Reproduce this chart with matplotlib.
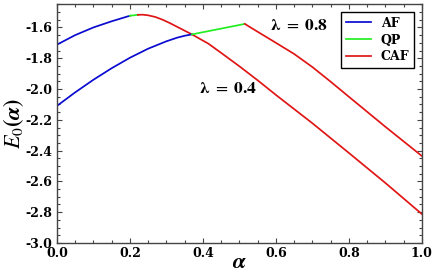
import numpy as np
import matplotlib
matplotlib.use('Agg')
import matplotlib.pyplot as plt
from matplotlib.ticker import MultipleLocator

# lambda = 0.4
af_a_04 = [0.0, 0.05, 0.10, 0.15, 0.20]
af_e_04 = [-1.712, -1.650, -1.600, -1.560, -1.524]
qp_a_04 = [0.20, 0.222]
qp_e_04 = [-1.524, -1.518]
caf_a_04 = [0.222, 0.235, 0.25, 0.27, 0.29, 0.31, 0.337, 0.37, 0.415, 0.45,
            0.50, 0.55, 0.60, 0.70, 0.80, 0.90, 1.0]
caf_e_04 = [-1.518, -1.517, -1.521, -1.532, -1.550, -1.572, -1.605, -1.645,
            -1.705, -1.765, -1.852, -1.943, -2.038, -2.222, -2.415, -2.610, -2.812]

# lambda = 0.8
af_a_08 = [0.0, 0.05, 0.10, 0.15, 0.20, 0.25, 0.30, 0.33, 0.35, 0.37]
af_e_08 = [-2.110, -2.022, -1.940, -1.865, -1.797, -1.738, -1.690, -1.666,
           -1.654, -1.645]
qp_a_08 = [0.37, 0.515]
qp_e_08 = [-1.645, -1.577]
caf_a_08 = [0.515, 0.555, 0.59, 0.65, 0.70, 0.75, 0.80, 0.90, 1.0]
caf_e_08 = [-1.577, -1.635, -1.685, -1.772, -1.857, -1.952, -2.050, -2.245, -2.435]

c_af, c_qp, c_caf = '#0a0ad0', '#22ee22', '#e01515'
serif = 'DejaVu Serif'
plt.rcParams['mathtext.fontset'] = 'stix'

fig = plt.figure(figsize=(4.34, 2.73), dpi=100)
ax = fig.add_axes([0.131, 0.110, 0.841, 0.874])

lw = 1.25
ax.plot(af_a_04, af_e_04, color=c_af, lw=lw, label='AF')
ax.plot(qp_a_04, qp_e_04, color=c_qp, lw=lw, label='QP')
ax.plot(caf_a_04, caf_e_04, color=c_caf, lw=lw, label='CAF')
ax.plot(af_a_08, af_e_08, color=c_af, lw=lw)
ax.plot(qp_a_08, qp_e_08, color=c_qp, lw=lw)
ax.plot(caf_a_08, caf_e_08, color=c_caf, lw=lw)

ax.set_xlim(0, 1.0)
ax.set_ylim(-3.0, -1.45)
ax.xaxis.set_minor_locator(MultipleLocator(0.05))
ax.yaxis.set_minor_locator(MultipleLocator(0.05))
ax.tick_params(which='both', direction='in', top=True, right=True, width=0.8,
               color='#444444')
ax.tick_params(which='major', length=3.5)
ax.tick_params(which='minor', length=2)
ax.tick_params(axis='x', pad=3)
ax.tick_params(axis='y', pad=3)
for s in ax.spines.values():
    s.set_color('#444444')
    s.set_linewidth(1.0)

xt = np.arange(0, 1.01, 0.2)
ax.set_xticks(xt)
ax.set_xticklabels(['%.1f' % v for v in xt], fontfamily=serif,
                   fontweight='bold', fontsize=9)
yt = np.arange(-3.0, -1.55, 0.2)
ax.set_yticks(yt)
ax.set_yticklabels(['%.1f' % v for v in yt], fontfamily=serif,
                   fontweight='bold', fontsize=9)

ax.set_xlabel(r'$\boldsymbol{\alpha}$', fontsize=16, labelpad=-6)
ax.set_ylabel(r'$\boldsymbol{E_0(\alpha)}$', fontsize=16, labelpad=0)

ax.text(0.39, -1.994, r'$\boldsymbol{\lambda}\ =\ \mathbf{0.4}$', fontsize=12.5, va='center')
ax.text(0.585, -1.584, r'$\boldsymbol{\lambda}\ =\ \mathbf{0.8}$', fontsize=12.5, va='center')

leg = ax.legend(loc='upper right', prop={'family': serif, 'weight': 'bold', 'size': 9},
                fancybox=False, edgecolor='black', framealpha=1,
                handlelength=2.0, borderpad=0.4, labelspacing=0.3,
                borderaxespad=0.6)
leg.get_frame().set_linewidth(1.0)

fig.savefig('out.png', dpi=100)
